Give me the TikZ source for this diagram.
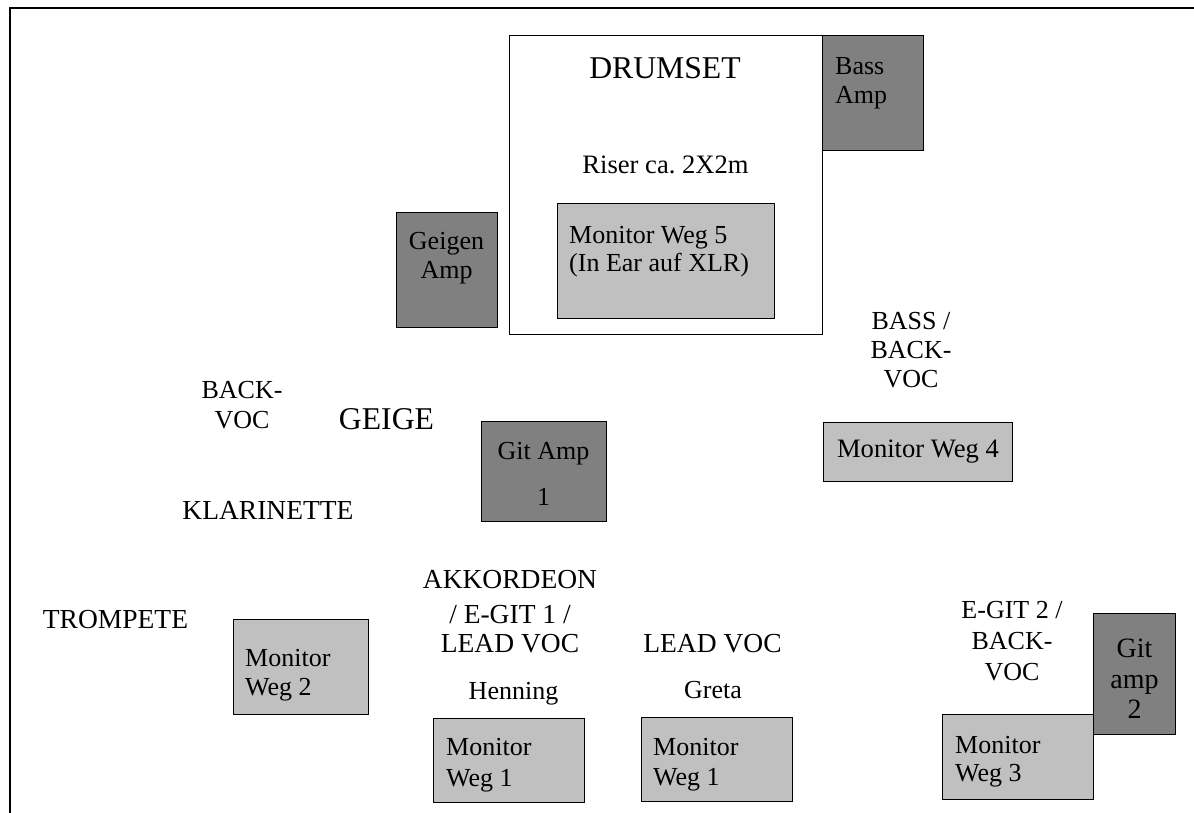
\documentclass[tikz,border=0pt]{standalone}
\usepackage{fontspec}
\setmainfont{Liberation Serif}
\usepackage{array}
\frenchspacing
\newcommand\txtblock[2]{\begin{tabular}[t]{@{}#1@{}}#2\end{tabular}}
\definecolor{ampgrey}{HTML}{808080}
\definecolor{mongrey}{HTML}{C0C0C0}
\tikzset{
  normal/.style={font=\fontsize{26}{30}\selectfont, inner sep=0pt, anchor=base},
  larger/.style={font=\fontsize{27.5}{30}\selectfont, inner sep=0pt, anchor=base},
  big/.style={font=\fontsize{31.7}{36}\selectfont, inner sep=0pt, anchor=base},
  leftt/.style={normal, anchor=base west},
  boxbase/.style={draw=black, line width=1pt, anchor=north west, inner sep=0pt, rectangle},
  ampbox/.style={boxbase, fill=ampgrey},
  monbox/.style={boxbase, fill=mongrey},
  riserbox/.style={boxbase, fill=white},
}
\begin{document}
\begin{tikzpicture}[x=1pt, y=-1pt]
\useasboundingbox (0,0) rectangle (1194,813);
% stage frame (clipped on right and bottom)
\draw[line width=2pt] (9.5,813) -- (9.5,8.5) -- (1194,8.5);

% boxes
\node[riserbox, minimum width=313pt, minimum height=299pt] (riser) at (509,35) {};
\node[ampbox, minimum width=101pt, minimum height=115pt] (bassamp) at (822,35) {};
\node[monbox, minimum width=217pt, minimum height=115pt] (mon5) at (557,203) {};
\node[ampbox, minimum width=101pt, minimum height=115pt] (geigenamp) at (396,212) {};
\node[ampbox, minimum width=125pt, minimum height=100pt] (gitamp1) at (481,421) {};
\node[monbox, minimum width=189pt, minimum height=59pt] (mon4) at (823,422) {};
\node[monbox, minimum width=135pt, minimum height=95pt] (mon2) at (233,619) {};
\node[monbox, minimum width=151pt, minimum height=84pt] (mon1a) at (433,718) {};
\node[monbox, minimum width=151pt, minimum height=84pt] (mon1b) at (641,717) {};
\node[ampbox, minimum width=82pt, minimum height=121pt] (gitamp2) at (1093,613) {};
\node[monbox, minimum width=151pt, minimum height=85pt] (mon3) at (942,714) {};

% texts
\begin{scope}[shift={(0,1.5)}]
\node[big] (tdrum) at (665,77) {DRUMSET};
\node[normal, font=\fontsize{26.6}{30}\selectfont] (triser) at (665.5,171.7) {Riser ca. 2X2m};
\node[leftt, font=\fontsize{26}{29.5}\selectfont] (tbass) at (835,72.7) {\txtblock{l}{Bass\\Amp}};
\node[leftt, font=\fontsize{26}{28.5}\selectfont] (tmon5) at (569,241.7) {\txtblock{l}{Monitor Weg 5\\(In Ear auf XLR)}};
\node[normal, font=\fontsize{26}{29}\selectfont] (tgeigenamp) at (446.5,248) {\txtblock{c}{Geigen\\Amp}};
\node[normal, font=\fontsize{26}{30}\selectfont] (tgitamp1) at (543.5,458) {\txtblock{c}{Git Amp~\\[16pt]1}};
\node[normal, font=\fontsize{26}{29.2}\selectfont] (tbassvoc) at (911,327.7) {\txtblock{c}{BASS /\\BACK-\\VOC}};
\node[normal, font=\fontsize{26.6}{30}\selectfont] (tmon4) at (918,455.7) {Monitor Weg 4};
\node[normal] (tbackvoc) at (242,396.7) {\txtblock{c}{BACK-\\VOC}};
\node[big] (tgeige) at (386.5,428.3) {GEIGE};
\node[larger] (tklar) at (268,518.3) {KLARINETTE};
\node[larger] (ttromp) at (115.5,626.7) {TROMPETE};
\node[leftt, font=\fontsize{26}{29}\selectfont] (tmon2) at (245,665) {\txtblock{l}{Monitor\\Weg 2}};
\node[larger, font=\fontsize{27.5}{29}\selectfont] (takk) at (510,587) {\txtblock{c}{AKKORDEON\\[6pt]/ E-GIT 1 /\\LEAD VOC}};
\node[normal] (thenning) at (513.5,698) {Henning};
\node[larger] (tlead) at (712.5,651) {LEAD VOC};
\node[normal] (tgreta) at (713,697) {Greta};
\node[leftt, font=\fontsize{26}{31}\selectfont] (tmon1a) at (446,754) {\txtblock{l}{Monitor\\Weg 1}};
\node[leftt, font=\fontsize{26}{30}\selectfont] (tmon1b) at (653,754) {\txtblock{l}{Monitor\\Weg 1}};
\node[normal, font=\fontsize{26}{31}\selectfont] (tegit) at (1012,617.3) {\txtblock{c}{E-GIT 2 /\\BACK-\\VOC}};
\node[normal, font=\fontsize{28}{30.5}\selectfont] (tgitamp2) at (1134.5,656) {\txtblock{c}{Git\\amp\\2}};
\node[leftt, font=\fontsize{26}{28.5}\selectfont] (tmon3) at (955,751.7) {\txtblock{l}{Monitor\\Weg 3}};
\end{scope}
\end{tikzpicture}
\end{document}
